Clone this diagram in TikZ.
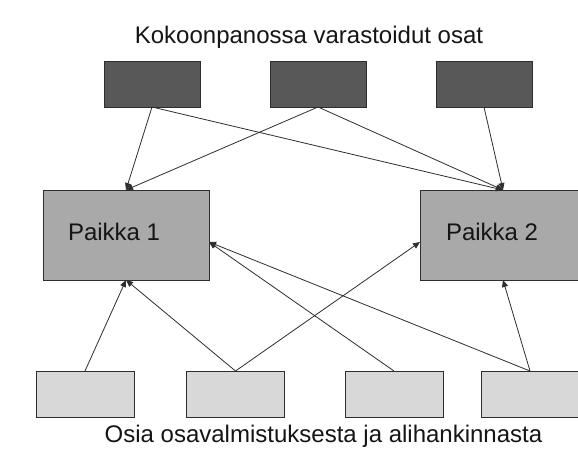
\documentclass[tikz,border=0pt]{standalone}
\usepackage{fontspec}
\setmainfont{Liberation Sans}
\usetikzlibrary{arrows.meta}
\definecolor{storedfill}{HTML}{585858}
\definecolor{sitefill}{HTML}{A9A9A9}
\definecolor{partfill}{HTML}{D8D8D8}
\definecolor{edgecol}{HTML}{2E2E2E}
\definecolor{inkcol}{HTML}{151515}
\begin{document}
\begin{tikzpicture}[x=1pt,y=-1pt,
  every node/.style={inner sep=0pt,outer sep=0pt},
  boxbase/.style={draw=edgecol,line width=0.9pt},
  stored/.style={boxbase,fill=storedfill,minimum width=96pt,minimum height=46pt},
  site/.style={boxbase,fill=sitefill,minimum width=166pt,minimum height=90pt},
  part/.style={boxbase,fill=partfill,minimum width=98pt,minimum height=46pt},
  caption/.style={text=inkcol,font=\fontsize{24}{28}\selectfont,anchor=base},
  conn/.style={draw=edgecol,line width=0.8pt,-{Triangle[length=7pt,width=6pt]}}]

% canvas
\fill[white] (0,0) rectangle (578,450);
\useasboundingbox (0,0) rectangle (578,450);

% headings
\node[caption] (title) at (309,43) {Kokoonpanossa varastoidut osat};
\node[caption] (footer) at (323.5,442) {Osia osavalmistuksesta ja alihankinnasta};

% parts stored at the assembly
\node[stored] (s1) at (152,84) {};
\node[stored] (s2) at (318,84) {};
\node[stored] (s3) at (484,84) {};

% assembly sites
\node[site] (p1) at (126,235) {};
\node[site] (p2) at (503,235) {};
\node[caption,anchor=base west] (p1t) at (68,240) {Paikka 1};
\node[caption,anchor=base west] (p2t) at (446,240) {Paikka 2};

% parts from component manufacturing and subcontracting
\node[part] (b1) at (85,394) {};
\node[part] (b2) at (235.5,394) {};
\node[part] (b3) at (394,394) {};
\node[part] (b4) at (530,394) {};

% side entry points
\coordinate (p1r) at ([yshift=-7pt]p1.east);
\coordinate (p2l) at ([yshift=-7pt]p2.west);

% deliveries from stored parts
\draw[conn] (s1.south) -- (p1.north);
\draw[conn] (s1.south) -- (p2.north);
\draw[conn] (s2.south) -- (p1.north);
\draw[conn] (s2.south) -- (p2.north);
\draw[conn] (s3.south) -- (p2.north);

% deliveries from manufactured parts
\draw[conn] (b1.north) -- (p1.south);
\draw[conn] (b2.north) -- (p1.south);
\draw[conn] (b2.north) -- (p2l);
\draw[conn] (b3.north) -- (p1r);
\draw[conn] (b4.north) -- (p1r);
\draw[conn] (b4.north) -- (p2.south);
\end{tikzpicture}
\end{document}
